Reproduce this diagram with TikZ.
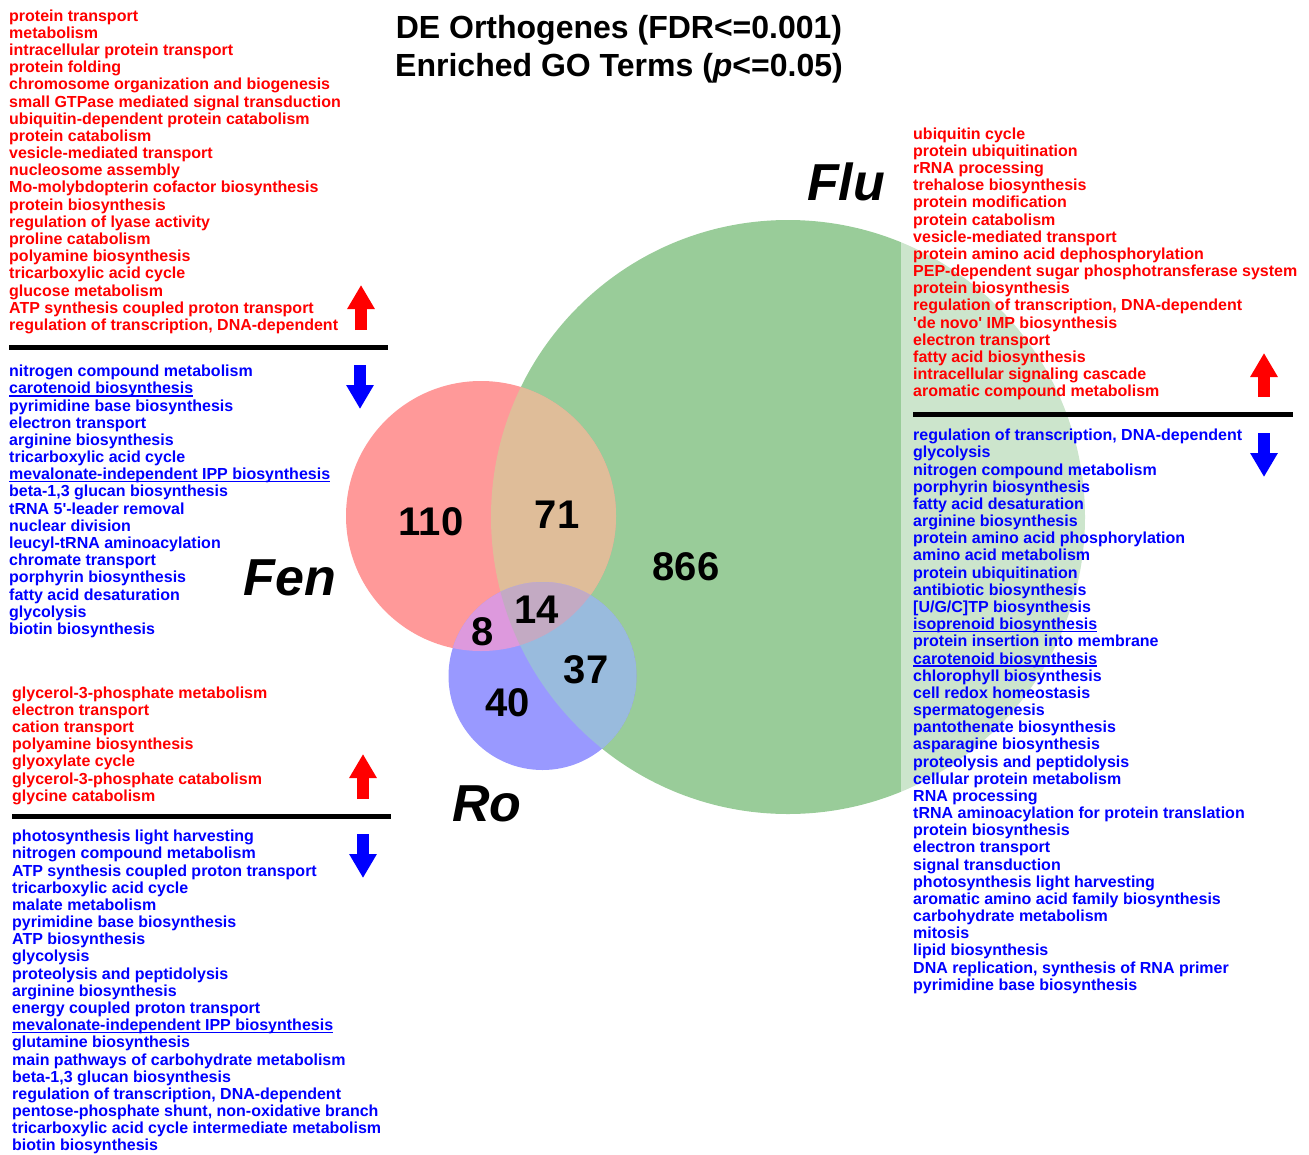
\documentclass[tikz,border=0pt]{standalone}
\usepackage{fontspec}
\setmainfont{Liberation Sans}
\usetikzlibrary{arrows.meta}

\definecolor{flufill}{HTML}{99CC99}
\definecolor{fenfill}{HTML}{FF9999}
\definecolor{rofill}{HTML}{9999FF}
\definecolor{fenflufill}{HTML}{DFBD99}
\definecolor{fenrofill}{HTML}{DD99DD}
\definecolor{flurofill}{HTML}{99BBDD}
\definecolor{allfill}{HTML}{C3AAC3}

% underlined GO term
\newcommand\ulterm[1]{\setbox0\hbox{#1}\rlap{\rule[-2.6pt]{\wd0}{1.2pt}}#1}

\tikzset{
  golist/.style={anchor=north west, inner sep=0pt, align=left,
    font=\fontsize{16}{17.17}\selectfont\bfseries},
  uplist/.style={golist, text=red},
  downlist/.style={golist, text=blue},
  heading/.style={anchor=north, inner sep=0pt, align=center,
    font=\fontsize{32}{38}\selectfont\bfseries},
  setname/.style={font=\fontsize{52}{60}\selectfont\bfseries\itshape},
  count/.style={font=\fontsize{40}{46}\selectfont\bfseries},
  divider/.style={line width=5pt},
  upmark/.style={red, line width=12pt, -{Triangle[width=26pt,length=24pt]}},
  downmark/.style={blue, line width=12pt, -{Triangle[width=26pt,length=24pt]}},
}

\begin{document}
\begin{tikzpicture}[x=1pt, y=-1pt]
\useasboundingbox (0,0) rectangle (1309,1154);

% the three sets
\coordinate (flu) at (788,517);
\coordinate (fen) at (481,516);
\coordinate (ro) at (542.5,676);
\fill[flufill] (flu) circle[radius=297];
\fill[fenfill] (fen) circle[radius=135];
\fill[rofill] (ro) circle[radius=94];
\begin{scope}
  \clip (fen) circle[radius=135];
  \fill[fenflufill] (flu) circle[radius=297];
  \fill[fenrofill] (ro) circle[radius=94];
  \clip (flu) circle[radius=297];
  \fill[allfill] (ro) circle[radius=94];
\end{scope}
\begin{scope}
  \clip (ro) circle[radius=94];
  \clip (flu) circle[radius=297];
  \fill[flurofill, even odd rule] (ro) circle[radius=94] (fen) circle[radius=135];
\end{scope}
\fill[white, opacity=0.5] (901,125) rectangle (1305,995);

\node[heading] (title) at (619,15.5) {DE Orthogenes (FDR<=0.001)\\Enriched GO Terms (\textit{p}<=0.05)};

\node[setname] (flulabel) at (846,182) {Flu};
\node[setname] (fenlabel) at (290,578) {Fen};
\node[setname] (rolabel) at (487,804) {Ro};

\node[count] (n110) at (431,522) {110};
\node[count] (n71) at (557,515) {71};
\node[count] (n866) at (686,567) {866};
\node[count] (n14) at (537,610) {14};
\node[count] (n8) at (483,632) {8};
\node[count] (n37) at (586,670) {37};
\node[count] (n40) at (508,703) {40};

% Fen
\node[uplist] (fenup) at (9,9.5) {protein transport\\metabolism\\intracellular protein transport\\protein folding\\chromosome organization and biogenesis\\small GTPase mediated signal transduction\\ubiquitin-dependent protein catabolism\\protein catabolism\\vesicle-mediated transport\\nucleosome assembly\\Mo-molybdopterin cofactor biosynthesis\\protein biosynthesis\\regulation of lyase activity\\proline catabolism\\polyamine biosynthesis\\tricarboxylic acid cycle\\glucose metabolism\\ATP synthesis coupled proton transport\\regulation of transcription, DNA-dependent};
\node[downlist] (fendown) at (9,365) {nitrogen compound metabolism\\\ulterm{carotenoid biosynthesis}\\pyrimidine base biosynthesis\\electron transport\\arginine biosynthesis\\tricarboxylic acid cycle\\\ulterm{mevalonate-independent IPP biosynthesis}\\beta-1,3 glucan biosynthesis\\tRNA 5\textquotesingle-leader removal\\nuclear division\\leucyl-tRNA aminoacylation\\chromate transport\\porphyrin biosynthesis\\fatty acid desaturation\\glycolysis\\biotin biosynthesis};
\coordinate (fenrule1) at (9,347);
\coordinate (fenrule2) at (388,347);
\draw[divider] (fenrule1) -- (fenrule2);
\coordinate (fenupfoot) at (361,330);
\coordinate (fenuptip) at (361,285);
\coordinate (fendownfoot) at (360,365);
\coordinate (fendowntip) at (360,409);
\draw[upmark] (fenupfoot) -- (fenuptip);
\draw[downmark] (fendownfoot) -- (fendowntip);

% Ro
\node[uplist] (roup) at (12,686.5) {glycerol-3-phosphate metabolism\\electron transport\\cation transport\\polyamine biosynthesis\\glyoxylate cycle\\glycerol-3-phosphate catabolism\\glycine catabolism};
\node[downlist] (rodown) at (12,830) {photosynthesis light harvesting\\nitrogen compound metabolism\\ATP synthesis coupled proton transport\\tricarboxylic acid cycle\\malate metabolism\\pyrimidine base biosynthesis\\ATP biosynthesis\\glycolysis\\proteolysis and peptidolysis\\arginine biosynthesis\\energy coupled proton transport\\\ulterm{mevalonate-independent IPP biosynthesis}\\glutamine biosynthesis\\main pathways of carbohydrate metabolism\\beta-1,3 glucan biosynthesis\\regulation of transcription, DNA-dependent\\pentose-phosphate shunt, non-oxidative branch\\tricarboxylic acid cycle intermediate metabolism\\biotin biosynthesis};
\coordinate (rorule1) at (12,816);
\coordinate (rorule2) at (391,816);
\draw[divider] (rorule1) -- (rorule2);
\coordinate (roupfoot) at (363,799);
\coordinate (rouptip) at (363,754);
\coordinate (rodownfoot) at (363,834);
\coordinate (rodowntip) at (363,878);
\draw[upmark] (roupfoot) -- (rouptip);
\draw[downmark] (rodownfoot) -- (rodowntip);

% Flu
\node[uplist] (fluup) at (913,127.5) {ubiquitin cycle\\protein ubiquitination\\rRNA processing\\trehalose biosynthesis\\protein modification\\protein catabolism\\vesicle-mediated transport\\protein amino acid dephosphorylation\\PEP-dependent sugar phosphotransferase system\\protein biosynthesis\\regulation of transcription, DNA-dependent\\\textquotesingle de novo\textquotesingle{} IMP biosynthesis\\electron transport\\fatty acid biosynthesis\\intracellular signaling cascade\\aromatic compound metabolism};
\node[downlist] (fludown) at (913,429) {regulation of transcription, DNA-dependent\\glycolysis\\nitrogen compound metabolism\\porphyrin biosynthesis\\fatty acid desaturation\\arginine biosynthesis\\protein amino acid phosphorylation\\amino acid metabolism\\protein ubiquitination\\antibiotic biosynthesis\\{[U/G/C]TP} biosynthesis\\\ulterm{isoprenoid biosynthesis}\\protein insertion into membrane\\\ulterm{carotenoid biosynthesis}\\chlorophyll biosynthesis\\cell redox homeostasis\\spermatogenesis\\pantothenate biosynthesis\\asparagine biosynthesis\\proteolysis and peptidolysis\\cellular protein metabolism\\RNA processing\\tRNA aminoacylation for protein translation\\protein biosynthesis\\electron transport\\signal transduction\\photosynthesis light harvesting\\aromatic amino acid family biosynthesis\\carbohydrate metabolism\\mitosis\\lipid biosynthesis\\DNA replication, synthesis of RNA primer\\pyrimidine base biosynthesis};
\coordinate (flurule1) at (913,414);
\coordinate (flurule2) at (1293,414);
\draw[divider] (flurule1) -- (flurule2);
\coordinate (fluupfoot) at (1264,397);
\coordinate (fluuptip) at (1264,353);
\coordinate (fludownfoot) at (1264,433);
\coordinate (fludowntip) at (1264,477);
\draw[upmark] (fluupfoot) -- (fluuptip);
\draw[downmark] (fludownfoot) -- (fludowntip);
\end{tikzpicture}
\end{document}
